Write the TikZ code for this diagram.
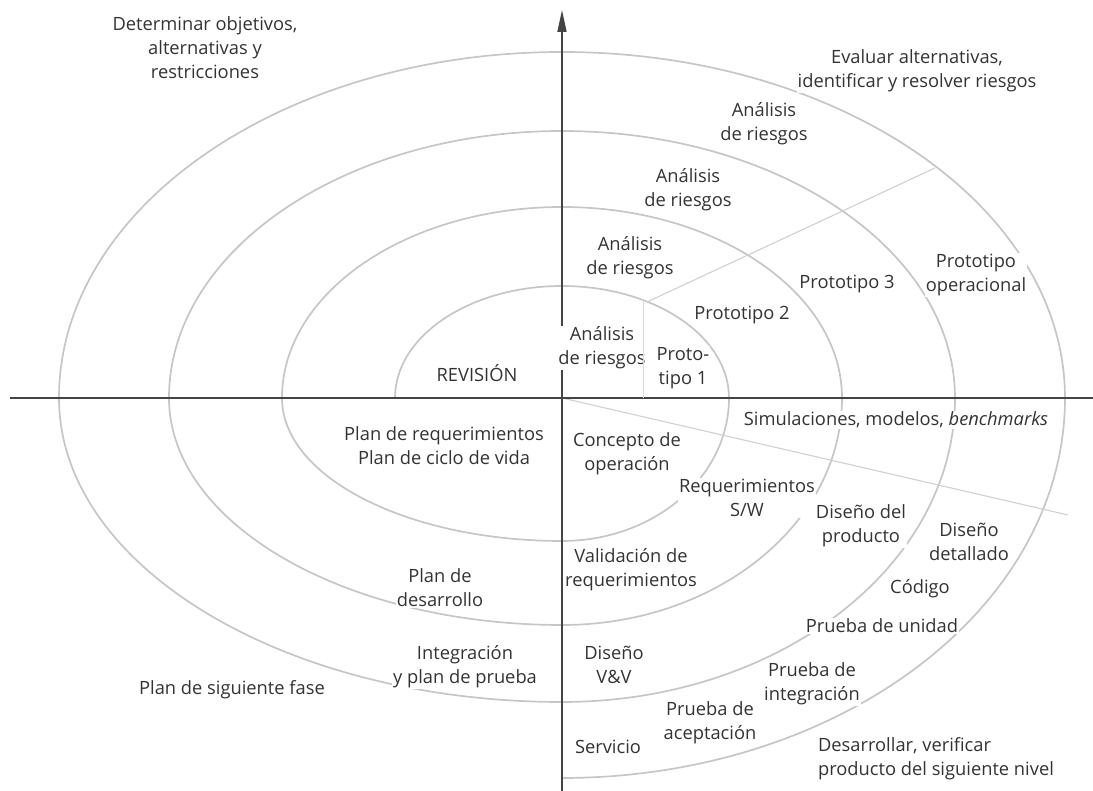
\documentclass[tikz,border=0pt]{standalone}
\usepackage{fontspec}
\setmainfont{Open Sans}
\usetikzlibrary{arrows.meta}
\definecolor{spiral}{HTML}{C6C6C6}
\definecolor{axis}{HTML}{444444}
\definecolor{ink}{HTML}{333333}
\definecolor{guide}{HTML}{D0D0D0}
\definecolor{tick}{HTML}{D6DDE5}
\begin{document}
\begin{tikzpicture}[x=1pt,y=1pt,
  spiralline/.style={draw=spiral,line width=1.7pt},
  guideline/.style={draw=guide,line width=1.1pt},
  axisline/.style={draw=axis,line width=1.7pt},
  lbl/.style={fill=white,inner sep=1pt,text=ink,align=center,
              font=\fontsize{18.3}{24}\selectfont},
]
\useasboundingbox (-562,-393) rectangle (531,398);

% key points
\coordinate (O)   at (0,0);
\coordinate (axL) at (-552,0);
\coordinate (axR) at (531,0);
\coordinate (axB) at (0,-393);
\coordinate (axT) at (0,388);
\coordinate (gA)  at (85,96);
\coordinate (gB)  at (373,230);
\coordinate (gC)  at (506,-117);
\coordinate (tA)  at (82,98);
\coordinate (tB)  at (82,0);
\coordinate (sp0) at (-167,0);

% the spiral, one quarter ellipse at a time
\draw[spiralline] (sp0)
  arc[start angle=180,end angle=90,x radius=167,y radius=112]
  arc[start angle=90,end angle=0,x radius=167,y radius=112]
  arc[start angle=0,end angle=-90,x radius=167,y radius=143]
  arc[start angle=-90,end angle=-180,x radius=280,y radius=143]
  arc[start angle=180,end angle=90,x radius=280,y radius=191]
  arc[start angle=90,end angle=0,x radius=280,y radius=191]
  arc[start angle=0,end angle=-90,x radius=280,y radius=227]
  arc[start angle=-90,end angle=-180,x radius=393,y radius=227]
  arc[start angle=180,end angle=90,x radius=393,y radius=267]
  arc[start angle=90,end angle=0,x radius=393,y radius=267]
  arc[start angle=0,end angle=-90,x radius=393,y radius=304]
  arc[start angle=-90,end angle=-180,x radius=503,y radius=304]
  arc[start angle=180,end angle=90,x radius=503,y radius=346]
  arc[start angle=90,end angle=0,x radius=503,y radius=346]
  arc[start angle=0,end angle=-90,x radius=503,y radius=380];

% sector dividers
\draw[guideline] (gA) -- (gB);
\draw[guideline] (O) -- (gC);

% axes
\draw[axisline] (axL) -- (axR);
\draw[axisline,-{Triangle[length=22pt,width=9pt]}] (axB) -- (axT);

% quadrant headings
\node[lbl] (det)  at (-357,350) {Determinar objetivos,\\alternativas y\\restricciones};
\node[lbl] (eval) at (355,327) {Evaluar alternativas,\\identificar y resolver riesgos};
\node[lbl] (psig) at (-330,-292) {Plan de siguiente fase};
\node[lbl,align=left] (desa) at (374,-361) {Desarrollar, verificar\\producto del siguiente nivel};

% risk analysis and prototypes
\node[lbl] (ar4) at (202,274) {Análisis\\de riesgos};
\node[lbl] (ar3) at (126,208) {Análisis\\de riesgos};
\node[lbl] (ar2) at (68,140)  {Análisis\\de riesgos};
\node[lbl] (ar1) at (40,50)   {Análisis\\de riesgos};
\node[lbl] (rev) at (-85,25)  {REVISIÓN};
\node[lbl] (p1)  at (121,30)  {Proto-\\tipo 1};
\node[lbl] (p2)  at (180,83)  {Prototipo 2};
\node[lbl] (p3)  at (285,114) {Prototipo 3};
\node[lbl] (pop) at (414,123) {Prototipo\\operacional};

% engineering steps
\node[lbl] (sim)   at (334,-22)  {Simulaciones, modelos, {\itshape benchmarks}};
\node[lbl] (cop)   at (65,-56)   {Concepto de\\operación};
\node[lbl] (rsw)   at (185,-100) {Requerimientos\\S/W};
\node[lbl] (dprod) at (299,-128) {Diseño del\\producto};
\node[lbl] (ddet)  at (407,-144) {Diseño\\detallado};
\node[lbl] (vreq)  at (69,-172)  {Validación de\\requerimientos};
\node[lbl] (cod)   at (358,-191) {Código};
\node[lbl] (punit) at (320,-228) {Prueba de unidad};
\node[lbl] (dvv)   at (52,-267)  {Diseño\\V\&V};
\node[lbl] (pint)  at (250,-286) {Prueba de\\integración};
\node[lbl] (pacep) at (148,-325) {Prueba de\\aceptación};
\node[lbl] (serv)  at (46,-349)  {Servicio};

% planning
\node[lbl] (preq) at (-118,-48) {Plan de requerimientos\\Plan de ciclo de vida};
\node[lbl] (pdes) at (-122,-190) {Plan de\\desarrollo};
\node[lbl] (integ) at (-97,-269) {Integración\\y plan de prueba};

% divider between first risk analysis and first prototype
\draw[draw=tick,line width=1pt] (tA) -- (tB);
\end{tikzpicture}
\end{document}
